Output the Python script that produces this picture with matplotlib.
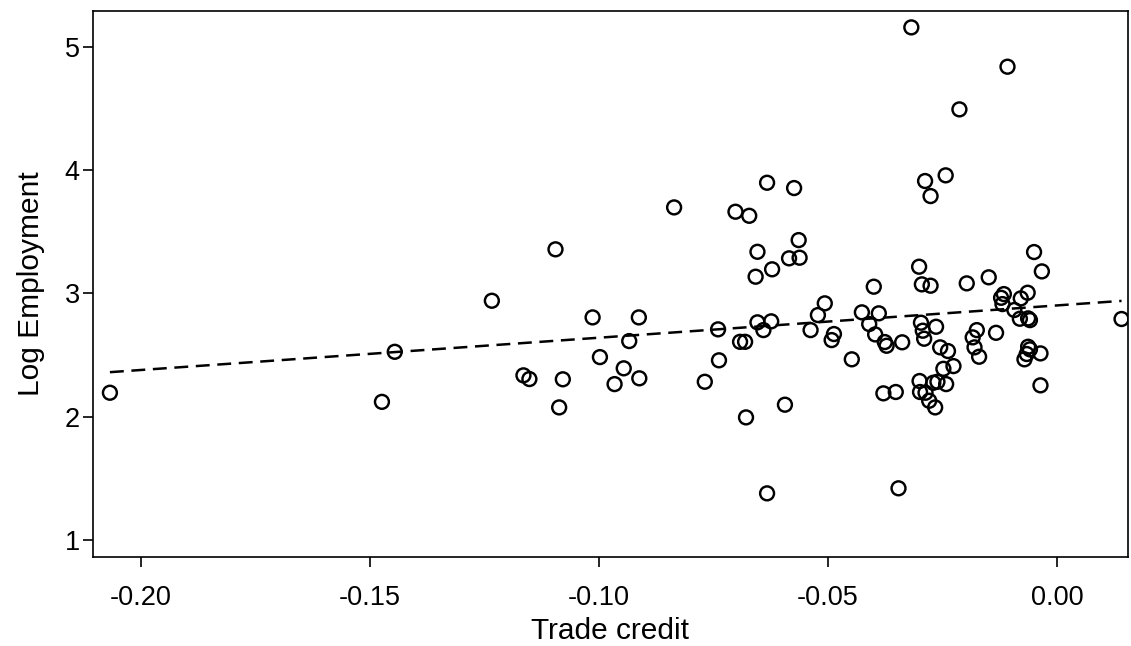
import matplotlib
matplotlib.use("Agg")
import matplotlib.pyplot as plt
import numpy as np

plt.rcParams['font.family'] = ['Liberation Sans', 'DejaVu Sans']
plt.rcParams['lines.scale_dashes'] = False

trade_credit = [
    -0.2068, -0.1474, -0.1446, -0.1234, -0.1165, -0.1152, -0.1095, -0.1087, -0.1079, -0.1014,
    -0.0998, -0.0966, -0.0946, -0.0934, -0.0913, -0.0912, -0.0836, -0.0769, -0.0740, -0.0738,
    -0.0702, -0.0692, -0.0681, -0.0679, -0.0672, -0.0658, -0.0654, -0.0654, -0.0641, -0.0633,
    -0.0633, -0.0624, -0.0622, -0.0594, -0.0585, -0.0574, -0.0564, -0.0562, -0.0538, -0.0522,
    -0.0507, -0.0492, -0.0487, -0.0448, -0.0426, -0.0410, -0.0400, -0.0397, -0.0389, -0.0379,
    -0.0376, -0.0372, -0.0352, -0.0346, -0.0338, -0.0318, -0.0301, -0.0300, -0.0299, -0.0297,
    -0.0295, -0.0293, -0.0290, -0.0288, -0.0287, -0.0279, -0.0276, -0.0276, -0.0270, -0.0266,
    -0.0264, -0.0261, -0.0255, -0.0248, -0.0243, -0.0242, -0.0238, -0.0226, -0.0213, -0.0197,
    -0.0184, -0.0180, -0.0175, -0.0170, -0.0149, -0.0133, -0.0122, -0.0119, -0.0116, -0.0108,
    -0.0093, -0.0081, -0.0079, -0.0071, -0.0066, -0.0064, -0.0063, -0.0063, -0.0059, -0.0059,
    -0.0050, -0.0036, -0.0036, -0.0033, 0.0141,
]
log_employment = [
    2.194, 2.120, 2.526, 2.940, 2.335, 2.305, 3.357, 2.075, 2.303, 2.805,
    2.483, 2.264, 2.392, 2.613, 2.805, 2.311, 3.697, 2.283, 2.708, 2.457,
    3.662, 2.607, 2.607, 1.994, 3.629, 3.135, 3.337, 2.765, 2.702, 3.897,
    1.378, 2.773, 3.195, 2.097, 3.284, 3.854, 3.432, 3.289, 2.702, 2.824,
    2.919, 2.621, 2.670, 2.465, 2.846, 2.751, 3.054, 2.667, 2.838, 2.189,
    2.605, 2.575, 2.200, 1.419, 2.603, 5.157, 3.216, 2.289, 2.200, 2.762,
    3.073, 2.697, 2.632, 3.911, 2.194, 2.129, 3.789, 3.062, 2.275, 2.075,
    2.729, 2.283, 2.562, 2.388, 3.957, 2.264, 2.532, 2.410, 4.492, 3.081,
    2.643, 2.562, 2.702, 2.486, 3.130, 2.680, 2.964, 2.913, 2.994, 4.838,
    2.865, 2.794, 2.959, 2.465, 2.508, 3.005, 2.797, 2.567, 2.783, 2.546,
    3.335, 2.513, 2.254, 3.178, 2.792,
]

fit_intercept = 2.902
fit_slope = 2.617

x_ticks = [-0.20, -0.15, -0.10, -0.05, 0.00]
x_tick_labels = ["-0.20", "-0.15", "-0.10", "-0.05", "0.00"]
y_ticks = [1, 2, 3, 4, 5]
y_tick_labels = ["1", "2", "3", "4", "5"]

fig = plt.figure(figsize=(11.31, 6.46), dpi=100)
ax = fig.add_axes([0.0822, 0.1378, 0.9151, 0.8452])

x = np.array(trade_credit)
y = np.array(log_employment)
ax.scatter(x, y, s=100, facecolors='none', edgecolors='black', linewidths=1.75, zorder=3)

fx = np.array([x.min(), x.max()])
fy = fit_intercept + fit_slope * fx
ax.plot(fx, fy, color='black', linewidth=1.8, linestyle=(0, (10, 5.5)), zorder=2)

ax.set_xlim(-0.2105, 0.0155)
ax.set_ylim(0.862, 5.29)
ax.set_xticks(x_ticks)
ax.set_xticklabels(x_tick_labels)
ax.set_yticks(y_ticks)
ax.set_yticklabels(y_tick_labels)

for sp in ax.spines.values():
    sp.set_linewidth(1.2)
    sp.set_color('black')

ax.tick_params(axis='both', direction='out', length=7.5, width=1.2, labelsize=19.5, colors='black')
ax.tick_params(axis='x', pad=13)
ax.tick_params(axis='y', pad=2)

ax.set_xlabel("Trade credit", fontsize=21.5, labelpad=4)
ax.set_ylabel("Log Employment", fontsize=21.5, labelpad=14)

fig.savefig("out.png", dpi=100)
